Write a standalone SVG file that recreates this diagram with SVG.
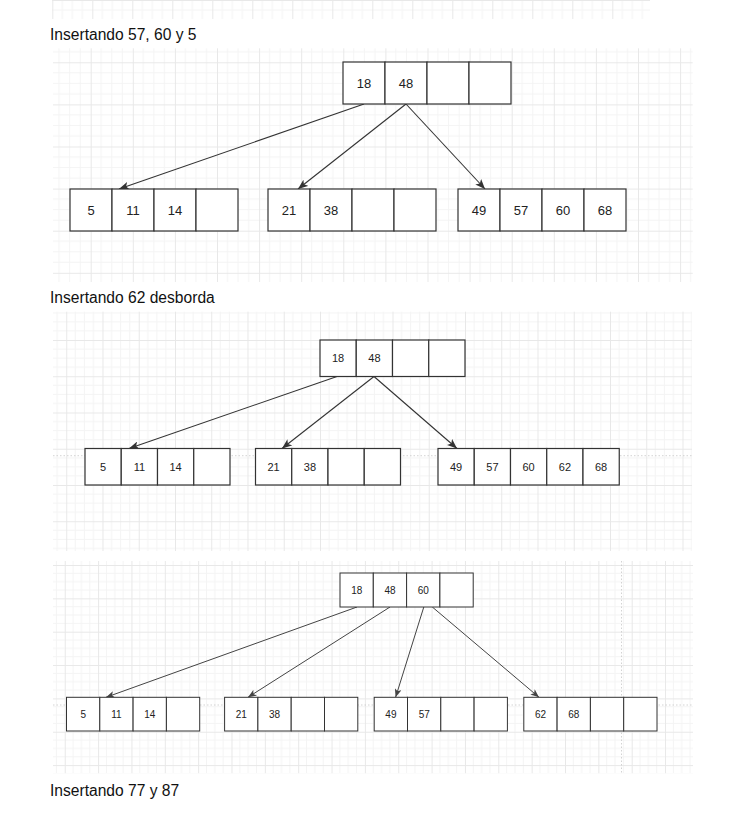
<svg xmlns="http://www.w3.org/2000/svg" width="753" height="839" viewBox="0 0 753 839">
<style>
.bg{fill:#ffffff}
.cell{fill:#ffffff;stroke:#333333;stroke-width:1.2}
.cell2{fill:#ffffff;stroke:#333333;stroke-width:1}
.t1{font-family:"Liberation Sans",Arial,sans-serif;font-size:13px;fill:#222222;text-anchor:middle}
.t2{font-family:"Liberation Sans",Arial,sans-serif;font-size:11px;fill:#222222;text-anchor:middle}
.t3{font-family:"Liberation Sans",Arial,sans-serif;font-size:10px;fill:#222222;text-anchor:middle}
.title{font-family:"Liberation Sans",Arial,sans-serif;font-size:15.6px;fill:#111111}
.edge{fill:none;stroke:#333333;stroke-width:1.1}
.edge3{fill:none;stroke:#444444;stroke-width:1}
.guide{fill:none;stroke:#c8c8c8;stroke-width:0.8;stroke-dasharray:1.5 2}
.minor{stroke:#f4f4f4;stroke-width:1}
.major{stroke:#e8e8e8;stroke-width:1}
</style>
<defs>
<pattern id="g0" patternUnits="userSpaceOnUse" x="572.3" y="0" width="40" height="40">
<path class="minor" d="M10,0V40M20,0V40M30,0V40M0,10H40M0,20H40M0,30H40"/>
<path class="major" d="M0.5,0V40M0,0.5H40"/>
</pattern>
<pattern id="g1" patternUnits="userSpaceOnUse" x="90.7" y="62.3" width="42.1" height="42.1">
<path class="minor" d="M10.5,0V42.1M21.05,0V42.1M31.6,0V42.1M0,10.5H42.1M0,21.05H42.1M0,31.6H42.1"/>
<path class="major" d="M0.5,0V42.1M0,0.5H42.1"/>
</pattern>
<pattern id="g2" patternUnits="userSpaceOnUse" x="320" y="340" width="36.25" height="36.25">
<path class="minor" d="M9.06,0V36.25M18.12,0V36.25M27.2,0V36.25M0,9.06H36.25M0,18.12H36.25M0,27.2H36.25"/>
<path class="major" d="M0.5,0V36.25M0,0.5H36.25"/>
</pattern>
<pattern id="g3" patternUnits="userSpaceOnUse" x="565" y="565" width="33.35" height="33.35">
<path class="minor" d="M8.34,0V33.35M16.68,0V33.35M25,0V33.35M0,8.34H33.35M0,16.68H33.35M0,25H33.35"/>
<path class="major" d="M0.5,0V33.35M0,0.5H33.35"/>
</pattern>
<marker id="arr" markerUnits="userSpaceOnUse" viewBox="0 0 10 8" refX="10" refY="4" markerWidth="10" markerHeight="8" orient="auto">
<path d="M0,0L10,4L0,8L2.5,4Z" fill="#333333"/>
</marker>
<marker id="arr3" markerUnits="userSpaceOnUse" viewBox="0 0 10 8" refX="10" refY="4" markerWidth="8.5" markerHeight="7" orient="auto">
<path d="M0,0L10,4L0,8L2.5,4Z" fill="#444444"/>
</marker>
</defs>
<rect class="bg" x="0" y="0" width="753" height="839"/>
<g id="grids">
<rect x="52" y="0" width="598" height="19" fill="url(#g0)"/>
<rect x="53" y="48.3" width="639.7" height="233.7" fill="url(#g1)"/>
<rect x="53" y="311.7" width="639" height="239.3" fill="url(#g2)"/>
<rect x="53" y="561" width="640" height="212.3" fill="url(#g3)"/>
<path class="guide" d="M53,455.7H692M53,705H693M621.5,561V773"/>
</g>
<g id="titles">
<text class="title" x="50" y="40">Insertando 57, 60 y 5</text>
<text class="title" x="50" y="303">Insertando 62 desborda</text>
<text class="title" x="50" y="796">Insertando 77 y 87</text>
</g>
<g id="connectors">
<path class="edge" d="M364,104L119,189" marker-end="url(#arr)"/>
<path class="edge" d="M406,104L298,189" marker-end="url(#arr)"/>
<path class="edge" d="M406,104L485,189" marker-end="url(#arr)"/>
<path class="edge" d="M337,376.5L129,448.5" marker-end="url(#arr)"/>
<path class="edge" d="M374,376.5L282,448.5" marker-end="url(#arr)"/>
<path class="edge" d="M374,376.5L457,448.5" marker-end="url(#arr)"/>
<path class="edge3" d="M357,607L106,697.3" marker-end="url(#arr3)"/>
<path class="edge3" d="M390,607L248,697.3" marker-end="url(#arr3)"/>
<path class="edge3" d="M423.8,607L395.6,697.3" marker-end="url(#arr3)"/>
<path class="edge3" d="M432.3,607L539,697.3" marker-end="url(#arr3)"/>
</g>
<g id="s1-root">
<rect class="cell" x="343" y="62" width="42" height="42"/><rect class="cell" x="385" y="62" width="42" height="42"/><rect class="cell" x="427" y="62" width="42" height="42"/><rect class="cell" x="469" y="62" width="42" height="42"/>
<text class="t1" x="364" y="87.8">18</text><text class="t1" x="406" y="87.8">48</text>
</g>
<g id="s1-c1">
<rect class="cell" x="70" y="189" width="42" height="42"/><rect class="cell" x="112" y="189" width="42" height="42"/><rect class="cell" x="154" y="189" width="42" height="42"/><rect class="cell" x="196" y="189" width="42" height="42"/>
<text class="t1" x="91" y="214.8">5</text><text class="t1" x="133" y="214.8">11</text><text class="t1" x="175" y="214.8">14</text>
</g>
<g id="s1-c2">
<rect class="cell" x="268" y="189" width="42" height="42"/><rect class="cell" x="310" y="189" width="42" height="42"/><rect class="cell" x="352" y="189" width="42" height="42"/><rect class="cell" x="394" y="189" width="42" height="42"/>
<text class="t1" x="289" y="214.8">21</text><text class="t1" x="331" y="214.8">38</text>
</g>
<g id="s1-c3">
<rect class="cell" x="458" y="189" width="42" height="42"/><rect class="cell" x="500" y="189" width="42" height="42"/><rect class="cell" x="542" y="189" width="42" height="42"/><rect class="cell" x="584" y="189" width="42" height="42"/>
<text class="t1" x="479" y="214.8">49</text><text class="t1" x="521" y="214.8">57</text><text class="t1" x="563" y="214.8">60</text><text class="t1" x="605" y="214.8">68</text>
</g>
<g id="s2-root">
<rect class="cell" x="320" y="340" width="36.25" height="36.5"/><rect class="cell" x="356.25" y="340" width="36.25" height="36.5"/><rect class="cell" x="392.5" y="340" width="36.25" height="36.5"/><rect class="cell" x="428.75" y="340" width="36.25" height="36.5"/>
<text class="t2" x="338.1" y="362.2">18</text><text class="t2" x="374.4" y="362.2">48</text>
</g>
<g id="s2-c1">
<rect class="cell" x="85" y="448.5" width="36.25" height="36.5"/><rect class="cell" x="121.25" y="448.5" width="36.25" height="36.5"/><rect class="cell" x="157.5" y="448.5" width="36.25" height="36.5"/><rect class="cell" x="193.75" y="448.5" width="36.25" height="36.5"/>
<text class="t2" x="103.1" y="470.7">5</text><text class="t2" x="139.4" y="470.7">11</text><text class="t2" x="175.6" y="470.7">14</text>
</g>
<g id="s2-c2">
<rect class="cell" x="255.5" y="448.5" width="36.25" height="36.5"/><rect class="cell" x="291.75" y="448.5" width="36.25" height="36.5"/><rect class="cell" x="328" y="448.5" width="36.25" height="36.5"/><rect class="cell" x="364.25" y="448.5" width="36.25" height="36.5"/>
<text class="t2" x="273.6" y="470.7">21</text><text class="t2" x="309.9" y="470.7">38</text>
</g>
<g id="s2-c3">
<rect class="cell" x="438" y="448.5" width="36.25" height="36.5"/><rect class="cell" x="474.25" y="448.5" width="36.25" height="36.5"/><rect class="cell" x="510.5" y="448.5" width="36.25" height="36.5"/><rect class="cell" x="546.75" y="448.5" width="36.25" height="36.5"/><rect class="cell" x="583" y="448.5" width="36.25" height="36.5"/>
<text class="t2" x="456.1" y="470.7">49</text><text class="t2" x="492.4" y="470.7">57</text><text class="t2" x="528.6" y="470.7">60</text><text class="t2" x="564.9" y="470.7">62</text><text class="t2" x="601.1" y="470.7">68</text>
</g>
<g id="s3-root">
<rect class="cell2" x="340" y="573" width="33.3" height="34"/><rect class="cell2" x="373.3" y="573" width="33.3" height="34"/><rect class="cell2" x="406.6" y="573" width="33.3" height="34"/><rect class="cell2" x="439.9" y="573" width="33.3" height="34"/>
<text class="t3" x="356.7" y="593.6">18</text><text class="t3" x="390" y="593.6">48</text><text class="t3" x="423.3" y="593.6">60</text>
</g>
<g id="s3-c1">
<rect class="cell2" x="66.5" y="697.3" width="33.3" height="33.7"/><rect class="cell2" x="99.8" y="697.3" width="33.3" height="33.7"/><rect class="cell2" x="133.1" y="697.3" width="33.3" height="33.7"/><rect class="cell2" x="166.4" y="697.3" width="33.3" height="33.7"/>
<text class="t3" x="83.2" y="717.8">5</text><text class="t3" x="116.5" y="717.8">11</text><text class="t3" x="149.8" y="717.8">14</text>
</g>
<g id="s3-c2">
<rect class="cell2" x="224.6" y="697.3" width="33.3" height="33.7"/><rect class="cell2" x="257.9" y="697.3" width="33.3" height="33.7"/><rect class="cell2" x="291.2" y="697.3" width="33.3" height="33.7"/><rect class="cell2" x="324.5" y="697.3" width="33.3" height="33.7"/>
<text class="t3" x="241.3" y="717.8">21</text><text class="t3" x="274.6" y="717.8">38</text>
</g>
<g id="s3-c3">
<rect class="cell2" x="374.2" y="697.3" width="33.3" height="33.7"/><rect class="cell2" x="407.5" y="697.3" width="33.3" height="33.7"/><rect class="cell2" x="440.8" y="697.3" width="33.3" height="33.7"/><rect class="cell2" x="474.1" y="697.3" width="33.3" height="33.7"/>
<text class="t3" x="390.9" y="717.8">49</text><text class="t3" x="424.2" y="717.8">57</text>
</g>
<g id="s3-c4">
<rect class="cell2" x="523.8" y="697.3" width="33.3" height="33.7"/><rect class="cell2" x="557.1" y="697.3" width="33.3" height="33.7"/><rect class="cell2" x="590.4" y="697.3" width="33.3" height="33.7"/><rect class="cell2" x="623.7" y="697.3" width="33.3" height="33.7"/>
<text class="t3" x="540.5" y="717.8">62</text><text class="t3" x="573.8" y="717.8">68</text>
</g>
</svg>
